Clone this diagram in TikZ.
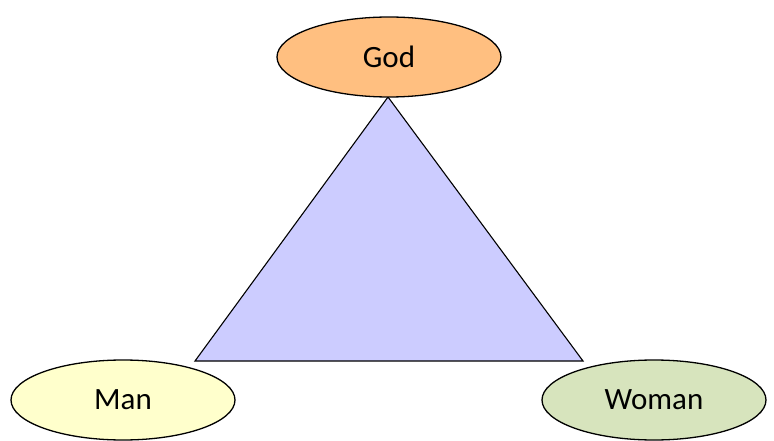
\documentclass[tikz,border=0pt]{standalone}
\usepackage{fontspec}
\setmainfont{Carlito}
\usetikzlibrary{shapes.geometric}

\definecolor{godfill}{RGB}{255,191,128}
\definecolor{manfill}{RGB}{255,255,204}
\definecolor{womanfill}{RGB}{215,228,189}
\definecolor{trifill}{RGB}{204,204,255}

\begin{document}
\begin{tikzpicture}[x=1pt, y=-1pt,
  oval/.style={ellipse, draw=black, line width=1.3pt, minimum width=224pt, minimum height=80pt, inner sep=0pt, font={\fontsize{31}{36}\selectfont}},
  tri/.style={draw=black, line width=1.1pt, fill=trifill, line join=miter}
]
\useasboundingbox (0,0) rectangle (774,441);
\coordinate (apex) at (388,97);
\coordinate (left) at (195,361);
\coordinate (right) at (583,361);
\filldraw[tri] (apex) -- (left) -- (right) -- cycle;
\node[oval, fill=godfill] (god) at (389,57) {God};
\node[oval, fill=manfill] (man) at (123,400) {Man};
\node[oval, fill=womanfill] (woman) at (654,400) {Woman};
\end{tikzpicture}
\end{document}
